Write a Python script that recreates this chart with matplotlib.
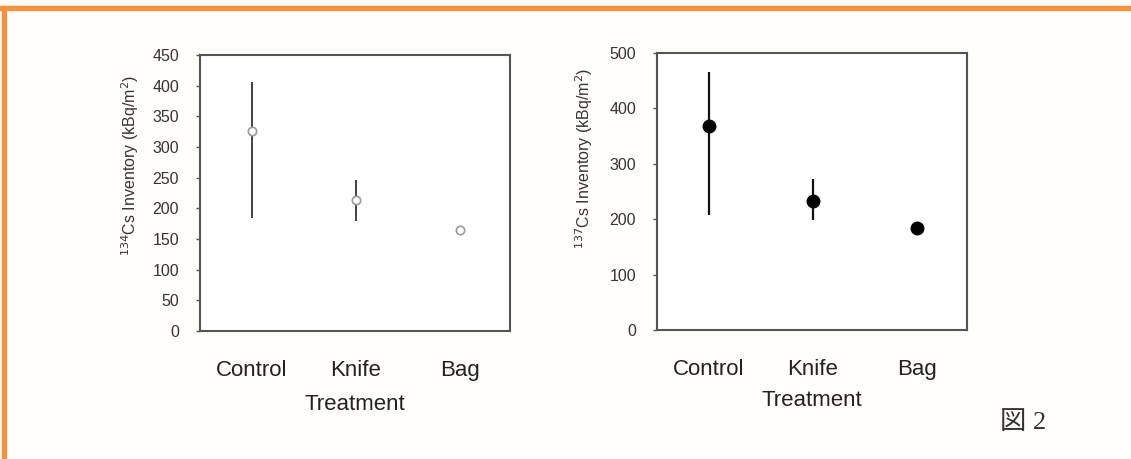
import matplotlib.pyplot as plt
from matplotlib.patches import Rectangle

# данные
treatments = ['Control', 'Knife', 'Bag']
cs134_mean = [326, 213, 164]
cs134_low = [185, 180, 158]
cs134_high = [406, 247, 171]
cs137_mean = [369, 233, 184]
cs137_low = [208, 199, 184]
cs137_high = [466, 273, 184]

plt.rcParams['font.family'] = ['Liberation Sans', 'DejaVu Sans']

fig = plt.figure(figsize=(11.31, 4.59), dpi=100, facecolor='#fffefa')

# оранжевая рамка
fig.patches.append(Rectangle((0, 1 - 10 / 459), 1, 4 / 459, transform=fig.transFigure,
                             color='#f5923e', zorder=0))
fig.patches.append(Rectangle((2 / 1131, 0), 4 / 1131, 1 - 6 / 459, transform=fig.transFigure,
                             color='#f5923e', zorder=0))

ax1 = fig.add_axes([200 / 1131, 1 - 331 / 459, 310 / 1131, 276 / 459])
ax2 = fig.add_axes([657 / 1131, 1 - 330 / 459, 310 / 1131, 277 / 459])

x = range(len(treatments))


def draw(ax, mean, low, high, filled, pad_x, pad_lab):
    yerr = [[m - l for m, l in zip(mean, low)], [h - m for m, h in zip(mean, high)]]
    if filled:
        ax.errorbar(x, mean, yerr=yerr, fmt='o', color='black', ecolor='#111111',
                    elinewidth=1.6, markersize=9, capsize=0)
    else:
        ax.errorbar(x, mean, yerr=yerr, fmt='o', mfc='white', mec='#9a9a9a', mew=1.2,
                    ecolor='#333333', elinewidth=1.3, markersize=6, capsize=0)
    ax.set_xlim(-0.5, 2.48)
    ax.set_xticks(list(x))
    ax.set_xticklabels(treatments, fontsize=16, color='#222222')
    ax.tick_params(axis='x', length=0, pad=pad_x)
    ax.tick_params(axis='y', length=3, width=1, color='#555555', labelsize=11.5,
                   labelcolor='#333333', pad=12)
    for s in ax.spines.values():
        s.set_linewidth(1.5)
        s.set_color('#555555')
    ax.set_xlabel('Treatment', fontsize=16, color='#222222', labelpad=pad_lab)


draw(ax1, cs134_mean, cs134_low, cs134_high, False, 21, 9)
ax1.set_ylim(0, 450)
ax1.set_yticks(range(0, 451, 50))
ax1.set_ylabel('$^{134}$Cs Inventory (kBq/m$^{2}$)', fontsize=11.5, color='#333333')
ax1.yaxis.set_label_coords(-0.19, 0.60)

draw(ax2, cs137_mean, cs137_low, cs137_high, True, 21, 7)
ax2.set_ylim(0, 500)
ax2.set_yticks(range(0, 501, 100))
ax2.set_ylabel('$^{137}$Cs Inventory (kBq/m$^{2}$)', fontsize=11.5, color='#333333')
ax2.yaxis.set_label_coords(-0.2, 0.62)

fig.text(1000 / 1131, 1 - 423 / 459, '図 2', fontsize=19, va='center', ha='left',
         family=['Liberation Serif', 'Noto Sans CJK JP'], color='#333333')

plt.savefig('out.png', dpi=100, facecolor=fig.get_facecolor())
